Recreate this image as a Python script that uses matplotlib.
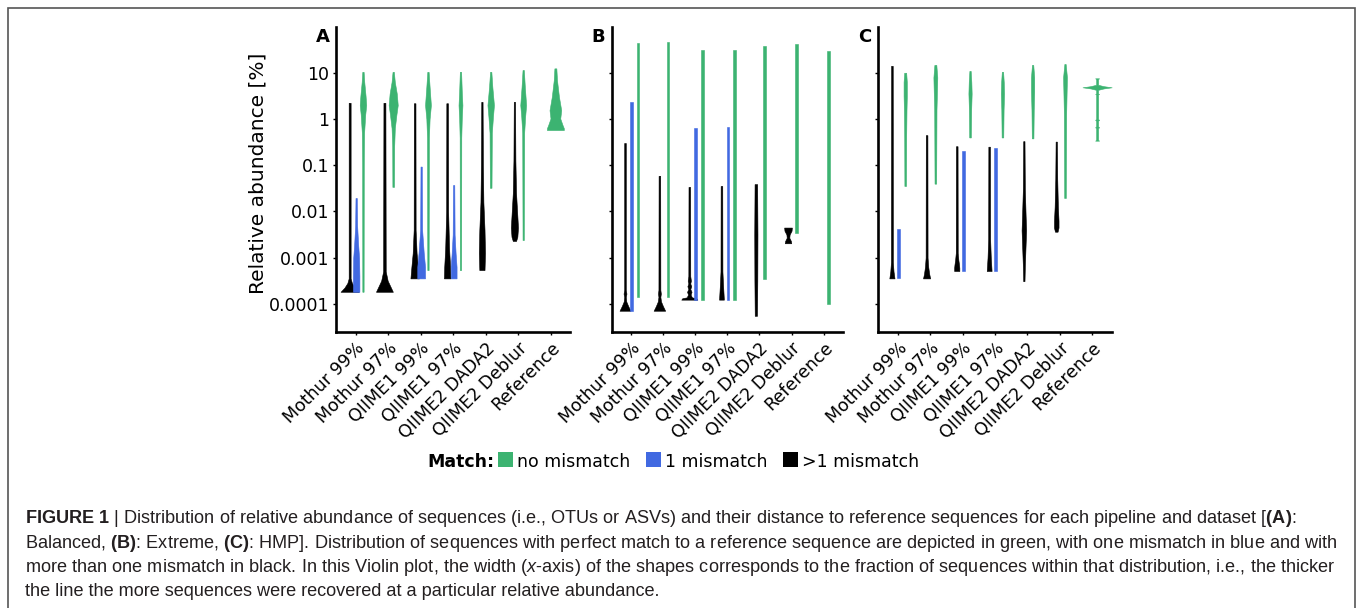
import numpy as np
import matplotlib
matplotlib.use("Agg")
import matplotlib.pyplot as plt
from matplotlib.patches import Rectangle

# Figure size in pixels (dpi 100)
W, H = 1358, 608

plt.rcParams["font.family"] = ["DejaVu Sans"]
plt.rcParams["mathtext.fontset"] = "custom"
plt.rcParams["mathtext.rm"] = "Liberation Sans"
plt.rcParams["mathtext.bf"] = "Liberation Sans:bold"
plt.rcParams["mathtext.it"] = "Liberation Sans:italic"

# Categories and groups
categories = ["Mothur 99%", "Mothur 97%", "QIIME1 99%", "QIIME1 97%",
              "QIIME2 DADA2", "QIIME2 Deblur", "Reference"]
groups = [">1 mismatch", "1 mismatch", "no mismatch"]
colors = {"no mismatch": "#3CB371", "1 mismatch": "#4169E1", ">1 mismatch": "#000000"}

ytick_values = [1e-4, 1e-3, 1e-2, 1e-1, 1, 10]
ytick_labels = ["0.0001", "0.001", "0.01", "0.1", "1", "10"]

# Violin profiles: category index -> list of (log10 relative abundance [%], half width)
# Panel A (Balanced)
a_black = {
    0: [(0.35, 0.03), (-3.45, 0.03), (-3.55, 0.07), (-3.65, 0.16), (-3.74, 0.28)],
    1: [(0.35, 0.03), (-3.3, 0.04), (-3.5, 0.1), (-3.65, 0.2), (-3.74, 0.26)],
    2: [(0.34, 0.025), (-2.4, 0.03), (-2.9, 0.06), (-3.2, 0.1), (-3.45, 0.13)],
    3: [(0.34, 0.025), (-2.0, 0.03), (-2.8, 0.06), (-3.2, 0.09), (-3.45, 0.1)],
    4: [(0.37, 0.02), (-1.0, 0.03), (-1.8, 0.045), (-2.4, 0.08), (-2.9, 0.095), (-3.27, 0.08)],
    5: [(0.37, 0.02), (-0.9, 0.03), (-1.6, 0.05), (-2.1, 0.09), (-2.35, 0.11), (-2.55, 0.09), (-2.64, 0.05)],
}
a_blue = {
    0: [(-1.71, 0.02), (-2.3, 0.03), (-2.7, 0.06), (-3.0, 0.09), (-3.4, 0.1), (-3.74, 0.1)],
    2: [(-1.03, 0.02), (-2.4, 0.03), (-2.9, 0.08), (-3.2, 0.12), (-3.45, 0.12)],
    3: [(-1.43, 0.02), (-2.5, 0.03), (-2.9, 0.06), (-3.2, 0.09), (-3.45, 0.09)],
}
a_green = {
    0: [(1.02, 0.02), (0.8, 0.04), (0.5, 0.08), (0.3, 0.1), (0.1, 0.07), (-0.3, 0.035), (-1.0, 0.025), (-3.74, 0.02)],
    1: [(1.02, 0.02), (0.8, 0.05), (0.55, 0.11), (0.3, 0.14), (0.1, 0.1), (-0.2, 0.05), (-0.6, 0.03), (-1.47, 0.025)],
    2: [(1.02, 0.02), (0.7, 0.05), (0.3, 0.09), (0.0, 0.05), (-0.4, 0.03), (-3.27, 0.02)],
    3: [(1.02, 0.02), (0.6, 0.04), (0.3, 0.06), (0.0, 0.04), (-0.4, 0.025), (-3.27, 0.02)],
    4: [(1.02, 0.02), (0.7, 0.05), (0.3, 0.1), (0.05, 0.07), (-0.3, 0.035), (-1.49, 0.025)],
    5: [(1.06, 0.02), (0.7, 0.05), (0.3, 0.09), (0.05, 0.06), (-0.3, 0.03), (-2.62, 0.02)],
    6: [(1.095, 0.03), (0.84, 0.05), (0.48, 0.11), (0.19, 0.18), (0.01, 0.15), (-0.13, 0.22), (-0.2, 0.26), (-0.24, 0.26)],
}

# Panel B (Extreme)
b_black = {
    0: [(-0.52, 0.025), (-3.7, 0.025), (-3.78, 0.045), (-3.85, 0.025), (-3.95, 0.04), (-4.05, 0.1), (-4.15, 0.17)],
    1: [(-1.23, 0.025), (-3.7, 0.03), (-3.78, 0.045), (-3.85, 0.03), (-3.95, 0.05), (-4.05, 0.11), (-4.15, 0.18)],
    2: [(-1.47, 0.025), (-3.4, 0.03), (-3.5, 0.05), (-3.56, 0.03), (-3.62, 0.06), (-3.68, 0.03), (-3.74, 0.07),
        (-3.8, 0.04), (-3.86, 0.08), (-3.88, 0.22), (-3.91, 0.25)],
    3: [(-1.45, 0.025), (-3.3, 0.03), (-3.6, 0.05), (-3.91, 0.075)],
    4: [(-1.41, 0.04), (-2.5, 0.05), (-3.5, 0.045), (-4.26, 0.035)],
    5: [(-2.35, 0.12), (-2.42, 0.11), (-2.5, 0.05), (-2.57, 0.04), (-2.64, 0.09), (-2.69, 0.1)],
}
b_blue = {
    0: [(0.37, 0.04), (-4.15, 0.04)],
    2: [(-0.19, 0.04), (-3.91, 0.04)],
    3: [(-0.17, 0.04), (-3.91, 0.04)],
}
b_green = {
    0: [(1.65, 0.04), (-3.85, 0.04)],
    1: [(1.67, 0.04), (-3.85, 0.04)],
    2: [(1.5, 0.04), (-3.91, 0.04)],
    3: [(1.5, 0.04), (-3.91, 0.04)],
    4: [(1.58, 0.04), (-3.47, 0.04)],
    5: [(1.63, 0.04), (-2.46, 0.04)],
    6: [(1.48, 0.04), (-4.01, 0.04)],
}

# Panel C (HMP)
c_black = {
    0: [(1.15, 0.025), (-3.1, 0.03), (-3.3, 0.05), (-3.45, 0.08)],
    1: [(-0.35, 0.025), (-3.0, 0.03), (-3.2, 0.05), (-3.35, 0.08), (-3.45, 0.11)],
    2: [(-0.59, 0.025), (-2.9, 0.03), (-3.05, 0.05), (-3.15, 0.07), (-3.22, 0.08), (-3.29, 0.08)],
    3: [(-0.6, 0.025), (-2.6, 0.03), (-3.0, 0.05), (-3.29, 0.075)],
    4: [(-0.48, 0.02), (-1.5, 0.03), (-2.1, 0.055), (-2.41, 0.07), (-2.8, 0.05), (-3.2, 0.03), (-3.51, 0.02)],
    5: [(-0.49, 0.02), (-1.3, 0.03), (-1.9, 0.05), (-2.2, 0.07), (-2.35, 0.07), (-2.44, 0.04)],
}
c_blue = {
    0: [(-2.39, 0.04), (-3.45, 0.04)],
    2: [(-0.69, 0.04), (-3.29, 0.04)],
    3: [(-0.62, 0.04), (-3.29, 0.04)],
}
c_green = {
    0: [(1.0, 0.03), (0.8, 0.05), (0.5, 0.05), (0.2, 0.04), (-0.4, 0.03), (-1.45, 0.025)],
    1: [(1.17, 0.03), (0.9, 0.06), (0.6, 0.05), (0.2, 0.035), (-1.4, 0.025)],
    2: [(1.04, 0.02), (0.8, 0.04), (0.55, 0.05), (0.2, 0.035), (-0.4, 0.025)],
    3: [(1.02, 0.02), (0.8, 0.04), (0.55, 0.05), (0.2, 0.035), (-0.4, 0.025)],
    4: [(1.17, 0.02), (0.9, 0.05), (0.6, 0.05), (0.2, 0.035), (-0.42, 0.025)],
    5: [(1.19, 0.02), (0.9, 0.06), (0.6, 0.05), (0.1, 0.035), (-1.71, 0.025)],
    6: [(0.88, 0.06), (0.86, 0.03), (0.74, 0.03), (0.71, 0.2), (0.685, 0.45), (0.66, 0.2), (0.63, 0.03),
        (0.55, 0.03), (0.54, 0.06), (0.53, 0.03), (0.0, 0.03), (-0.02, 0.06), (-0.04, 0.03),
        (-0.16, 0.03), (-0.18, 0.06), (-0.2, 0.03), (-0.45, 0.03), (-0.47, 0.06)],
}

panels = [
    ("A", {">1 mismatch": a_black, "1 mismatch": a_blue, "no mismatch": a_green}),
    ("B", {">1 mismatch": b_black, "1 mismatch": b_blue, "no mismatch": b_green}),
    ("C", {">1 mismatch": c_black, "1 mismatch": c_blue, "no mismatch": c_green}),
]

caption_lines = [
    r"$\mathbf{FIGURE\ 1}$ | Distribution of relative abundance of sequences (i.e., OTUs or ASVs) and their "
    r"distance to reference sequences for each pipeline and dataset [$\mathbf{(A)}$:",
    r"Balanced, $\mathbf{(B)}$: Extreme, $\mathbf{(C)}$: HMP]. Distribution of sequences with perfect match to a "
    r"reference sequence are depicted in green, with one mismatch in blue and with",
    r"more than one mismatch in black. In this Violin plot, the width ($\mathit{x}$-axis) of the shapes "
    r"corresponds to the fraction of sequences within that distribution, i.e., the thicker",
    r"the line the more sequences were recovered at a particular relative abundance.",
]


def fx(x):
    return x / W


def fy(y):
    return 1 - y / H


def dodge(present):
    # horizontal offsets of the groups inside one category
    if len(present) == 3:
        return {">1 mismatch": -0.18, "1 mismatch": 0.02, "no mismatch": 0.23}
    if len(present) == 2:
        return {">1 mismatch": -0.11, "no mismatch": 0.16}
    return {"no mismatch": 0.15}


fig = plt.figure(figsize=(W / 100, H / 100), dpi=100)

# axes boxes in pixels: left, right (top 27, bottom 332)
boxes = [(336, 570), (611.5, 843), (878.3, 1111.7)]
ax_top, ax_bottom = 27, 332

for (label, data), (left, right) in zip(panels, boxes):
    ax = fig.add_axes([fx(left), fy(ax_bottom), (right - left) / W, (ax_bottom - ax_top) / H])
    for ci in range(len(categories)):
        present = [g for g in groups if ci in data[g]]
        offs = dodge(present)
        for g in present:
            prof = np.array(data[g][ci])
            y = 10 ** prof[:, 0]
            w = prof[:, 1]
            x0 = ci + offs[g]
            ax.fill_betweenx(y, x0 - w, x0 + w, color=colors[g], lw=0.4, zorder=2)
    ax.set_yscale("log")
    ax.set_ylim(10 ** -4.61, 10 ** 1.99)
    ax.set_xlim(-0.6, 6.6)
    ax.set_yticks(ytick_values)
    ax.yaxis.set_minor_locator(matplotlib.ticker.NullLocator())
    if label == "A":
        ax.set_yticklabels(ytick_labels, fontsize=12.5)
    else:
        ax.set_yticklabels([])
    ax.set_xticks(range(len(categories)))
    ax.set_xticklabels(categories, rotation=45, ha="right", va="top",
                       rotation_mode="anchor", fontsize=12.5)
    for side in ["top", "right"]:
        ax.spines[side].set_visible(False)
    for side in ["left", "bottom"]:
        ax.spines[side].set_linewidth(1.9)
    ax.tick_params(length=2.5, width=1, pad=2.5, colors="black")
    ax.set_facecolor("none")
    fig.text(fx(left - 13.5), fy(36.5), label, fontsize=13, weight="bold",
             ha="center", va="center")

fig.text(fx(258), fy(173), "Relative abundance [%]", rotation=90, fontsize=14.5,
         ha="center", va="center")

# legend row
fig.text(fx(427), fy(467), "Match:", fontsize=12.5, weight="bold", va="baseline")
legend_x = [498, 646, 783]
for lx, g in zip(legend_x, ["no mismatch", "1 mismatch", ">1 mismatch"]):
    fig.add_artist(Rectangle((fx(lx), fy(467)), 15 / W, 15 / H, transform=fig.transFigure,
                             color=colors[g], lw=0))
    fig.text(fx(lx + 19), fy(467), g, fontsize=12.5, va="baseline")

# caption
for i, line in enumerate(caption_lines):
    fig.text(fx(25), fy(523.3 + 24.3 * i), line, fontsize=13.05, family="Liberation Sans",
             color="#231f20", va="baseline")

# frame around the figure
fig.add_artist(Rectangle((fx(7.5), fy(640)), (1355 - 7.5) / W, (640 - 8) / H,
                         transform=fig.transFigure, fill=False, edgecolor="#555555", lw=1.2))

fig.savefig("out.png", dpi=100)
